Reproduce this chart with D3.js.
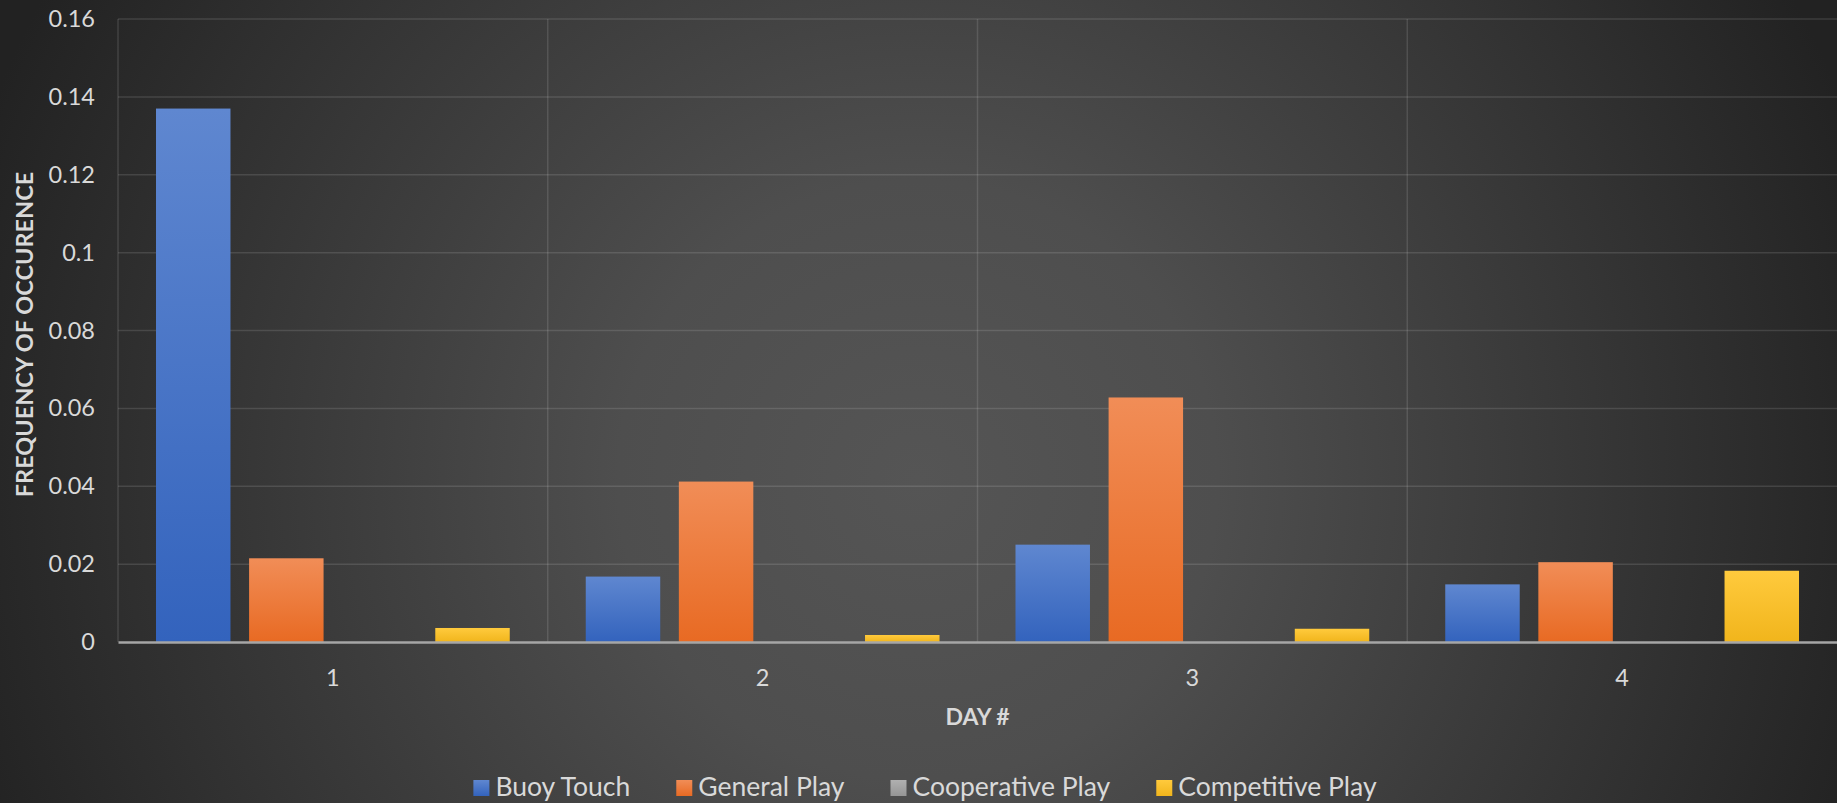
<!DOCTYPE html>
<html>
<head>
<meta charset="utf-8">
<script src="https://cdn.jsdelivr.net/npm/d3@7"></script>
<style>
  html, body { margin: 0; padding: 0; background: #2a2a2a; }
  svg text { font-family: Lato, "Open Sans", sans-serif; fill: #d9d9d9; }
</style>
</head>
<body>
<div id="chart"></div>
<script>
// data
var days = ["1", "2", "3", "4"];
var seriesNames = ["Buoy Touch", "General Play", "Cooperative Play", "Competitive Play"];
var buoyTouch = [0.137, 0.0168, 0.025, 0.0148];
var generalPlay = [0.0215, 0.0412, 0.0628, 0.0205];
var cooperativePlay = [0, 0, 0, 0];
var competitivePlay = [0.0036, 0.0018, 0.0034, 0.0183];
var yTicks = [0, 0.02, 0.04, 0.06, 0.08, 0.1, 0.12, 0.14, 0.16];

// colours (top, bottom of each bar gradient)
var colors = {
  "Buoy Touch": ["#5f87d0", "#3363bd"],
  "General Play": ["#f18d57", "#e86a23"],
  "Cooperative Play": ["#b0b0b0", "#959595"],
  "Competitive Play": ["#ffca3d", "#f1b51c"]
};

var svgWidth = 1837, svgHeight = 803;
var margin = { top: 19, right: 0, bottom: 161, left: 118 };
var chartWidth = svgWidth - margin.left - margin.right;
var chartHeight = svgHeight - margin.top - margin.bottom;

var rows = days.map(function(d, i) {
  return {
    day: d,
    values: [buoyTouch[i], generalPlay[i], cooperativePlay[i], competitivePlay[i]]
  };
});

var svg = d3.select("#chart").append("svg")
  .attr("width", svgWidth)
  .attr("height", svgHeight);

var defs = svg.append("defs");
// dark radial background, lightest a bit below the middle
var bg = defs.append("radialGradient").attr("id", "bg")
  .attr("gradientUnits", "userSpaceOnUse")
  .attr("cx", 918).attr("cy", 480).attr("r", 1000);
bg.append("stop").attr("offset", "0%").attr("stop-color", "#555555");
bg.append("stop").attr("offset", "30%").attr("stop-color", "#4e4e4e");
bg.append("stop").attr("offset", "100%").attr("stop-color", "#222222");

seriesNames.forEach(function(s, i) {
  var g = defs.append("linearGradient").attr("id", "grad" + i)
    .attr("x1", 0).attr("y1", 0).attr("x2", 0).attr("y2", 1);
  g.append("stop").attr("offset", "0%").attr("stop-color", colors[s][0]);
  g.append("stop").attr("offset", "100%").attr("stop-color", colors[s][1]);
});

svg.append("rect")
  .attr("width", svgWidth)
  .attr("height", svgHeight)
  .attr("fill", "url(#bg)");

var chartGroup = svg.append("g")
  .attr("transform", `translate(${margin.left}, ${margin.top})`);

// scales
var x0 = d3.scaleBand().domain(days).range([0, chartWidth]).padding(0);
var groupPad = 38;
var x1 = d3.scaleBand().domain(seriesNames)
  .range([groupPad, x0.bandwidth() - groupPad])
  .paddingInner(0.2).paddingOuter(0);
var yScale = d3.scaleLinear().domain([0, 0.16]).range([chartHeight, 0]);

// horizontal gridlines
chartGroup.append("g")
  .selectAll("line")
  .data(yTicks.slice(1))
  .enter()
  .append("line")
  .attr("x1", 0)
  .attr("x2", chartWidth)
  .attr("y1", d => yScale(d))
  .attr("y2", d => yScale(d))
  .attr("stroke", "#ffffff")
  .attr("stroke-opacity", 0.12)
  .attr("stroke-width", 1.5);

// vertical gridlines at category boundaries
chartGroup.append("g")
  .selectAll("line")
  .data(days)
  .enter()
  .append("line")
  .attr("x1", d => x0(d))
  .attr("x2", d => x0(d))
  .attr("y1", 0)
  .attr("y2", chartHeight)
  .attr("stroke", "#ffffff")
  .attr("stroke-opacity", 0.12)
  .attr("stroke-width", 1.5);

// y axis labels
var yAxis = d3.axisLeft(yScale)
  .tickValues(yTicks)
  .tickFormat(d3.format(".2~f"))
  .tickSize(0)
  .tickPadding(23);
var yAxisG = chartGroup.append("g").call(yAxis);
yAxisG.select(".domain").remove();
yAxisG.selectAll("text")
  .attr("font-size", 23.5)
  .attr("fill", "#d9d9d9")
  .style("font-family", "Lato, sans-serif");

// bars
var groups = chartGroup.selectAll(".day")
  .data(rows)
  .enter()
  .append("g")
  .attr("class", "day")
  .attr("transform", d => `translate(${x0(d.day)}, 0)`);

groups.selectAll("rect")
  .data(d => d.values.map((v, i) => ({ name: seriesNames[i], idx: i, value: v })))
  .enter()
  .append("rect")
  .attr("x", d => x1(d.name))
  .attr("width", x1.bandwidth())
  .attr("y", d => yScale(d.value))
  .attr("height", d => chartHeight - yScale(d.value))
  .attr("fill", d => `url(#grad${d.idx})`);

// x axis baseline + labels
var xAxis = d3.axisBottom(x0).tickSize(0).tickPadding(27);
var xAxisG = chartGroup.append("g")
  .attr("transform", `translate(0, ${chartHeight})`)
  .call(xAxis);
xAxisG.select(".domain")
  .attr("stroke", "#a6a6a6")
  .attr("stroke-width", 2.5);
xAxisG.selectAll("text")
  .attr("font-size", 23.5)
  .attr("fill", "#d9d9d9")
  .style("font-family", "Lato, sans-serif");

// axis titles
chartGroup.append("text")
  .attr("x", chartWidth / 2)
  .attr("y", chartHeight + 83)
  .attr("text-anchor", "middle")
  .attr("font-size", 23)
  .attr("font-weight", "bold")
  .text("DAY #");

svg.append("text")
  .attr("transform", `translate(33, ${margin.top + chartHeight / 2 + 4}) rotate(-90)`)
  .attr("text-anchor", "middle")
  .attr("font-size", 23.5)
  .attr("font-weight", "bold")
  .text("FREQUENCY OF OCCURENCE");

// legend
var legend = svg.append("g").attr("transform", "translate(0, 796)");
var legendGap = 46;
var xPos = 0;
var items = legend.selectAll(".item")
  .data(seriesNames)
  .enter()
  .append("g")
  .attr("class", "item");
items.append("rect")
  .attr("width", 16)
  .attr("height", 16)
  .attr("y", -16)
  .attr("fill", (d, i) => `url(#grad${i})`);
items.append("text")
  .attr("x", 22)
  .attr("font-size", 26.5)
  .text(d => d);
items.each(function() {
  var w = 22 + this.querySelector("text").getComputedTextLength();
  d3.select(this).attr("transform", `translate(${xPos}, 0)`);
  xPos += w + legendGap;
});
var legendWidth = xPos - legendGap;
legend.attr("transform", `translate(${925 - legendWidth / 2}, 796)`);
</script>
</body>
</html>
